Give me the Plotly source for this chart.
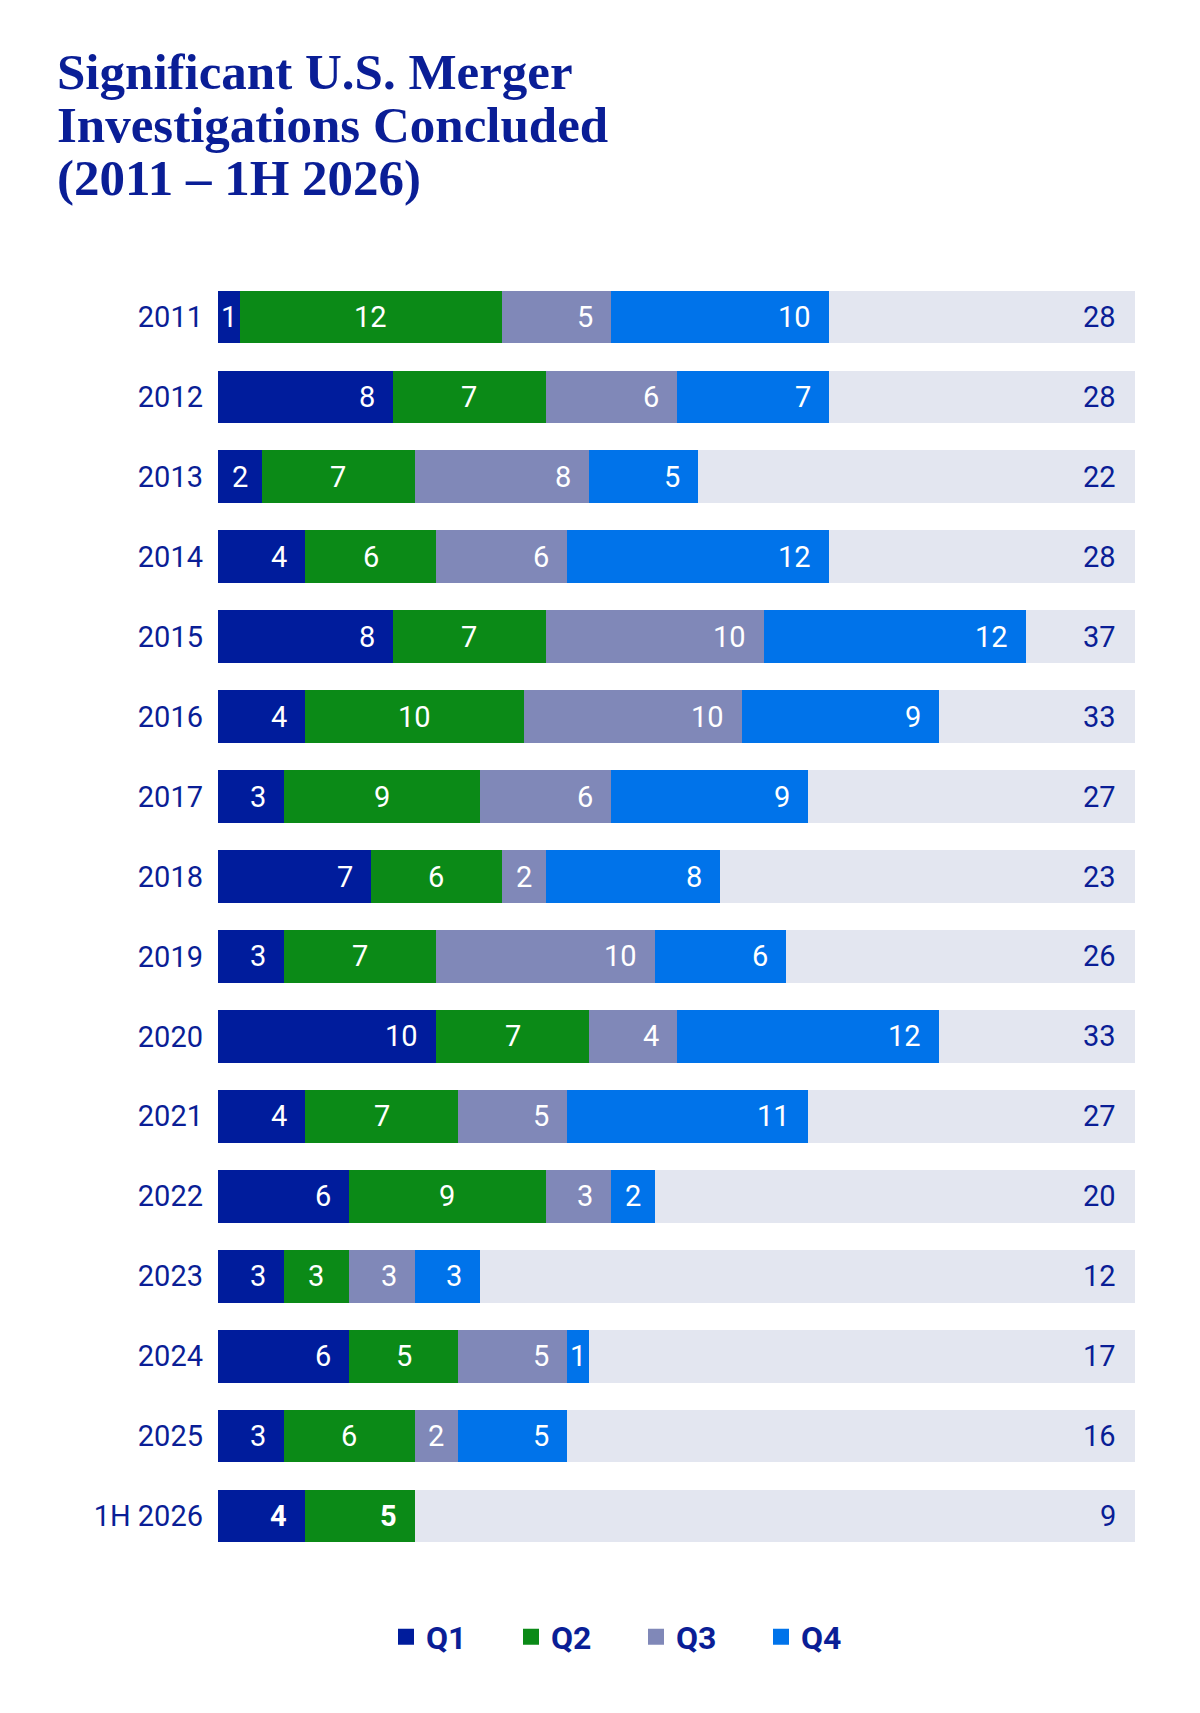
import plotly.graph_objects as go

# data
years = ["2011", "2012", "2013", "2014", "2015", "2016", "2017", "2018",
         "2019", "2020", "2021", "2022", "2023", "2024", "2025", "1H 2026"]
q1 = [1, 8, 2, 4, 8, 4, 3, 7, 3, 10, 4, 6, 3, 6, 3, 4]
q2 = [12, 7, 7, 6, 7, 10, 9, 6, 7, 7, 7, 9, 3, 5, 6, 5]
q3 = [5, 6, 8, 6, 10, 10, 6, 2, 10, 4, 5, 3, 3, 5, 2, 0]
q4 = [10, 7, 5, 12, 12, 9, 9, 8, 6, 12, 11, 2, 3, 1, 5, 0]
quarters = ["Q1", "Q2", "Q3", "Q4"]

AXIS_MAX = 42
NAVY = "#0a1e96"
colors = ["#001c9c", "#0b8a17", "#8088b8", "#0073ea"]
TRACK = "#e3e6f0"
FONT = "Roboto"

series = [q1, q2, q3, q4]
totals = [sum(v) for v in zip(*series)]
track = [AXIS_MAX - t for t in totals]

fig = go.Figure()
for name, vals, col in zip(quarters, series, colors):
    fig.add_trace(go.Bar(y=years, x=vals, name=name, orientation="h",
                         marker=dict(color=col, line=dict(width=0)),
                         showlegend=False, legendgroup=name,
                         hoverinfo="x+name"))
    # legend entry with a bigger square swatch
    fig.add_trace(go.Scatter(x=[None], y=[None], mode="markers", name=name,
                             legendgroup=name,
                             marker=dict(symbol="square", size=20, color=col)))
fig.add_trace(go.Bar(y=years, x=track, orientation="h", showlegend=False,
                     marker=dict(color=TRACK, line=dict(width=0)),
                     hoverinfo="skip"))

annots = []
last = len(years) - 1
# segment labels (y given as category index)
for i, yr in enumerate(years):
    start = 0
    wt = 700 if i == last else 400
    for k, vals in enumerate(series):
        v = vals[i]
        if v > 0:
            f = dict(family=FONT, size=29, color="white", weight=wt)
            if (k == 1 and i != last) or v <= 2:
                annots.append(dict(x=start + v / 2, y=i, text=str(v),
                                   xanchor="center", showarrow=False, font=f))
            else:
                annots.append(dict(x=start + v, y=i, text=str(v),
                                   xanchor="right", xshift=-16, showarrow=False,
                                   font=f))
        start += v
    # total at the right end of the track
    annots.append(dict(x=AXIS_MAX, y=i, text=str(totals[i]), xanchor="right",
                       xshift=-17, showarrow=False,
                       font=dict(family=FONT, size=29, color=NAVY)))

# title lines
title_lines = ["Significant U.S. Merger", "Investigations Concluded",
               "(2011 \u2013 1H 2026)"]
for j, line in enumerate(title_lines):
    annots.append(dict(xref="paper", yref="paper", x=(55 - 218) / 917,
                       y=(1556.5 - (71 + 53 * j)) / 1280, text="<b>" + line + "</b>",
                       xanchor="left", yanchor="middle", showarrow=False,
                       font=dict(family="Liberation Serif", size=51, color=NAVY)))

fig.update_layout(
    width=1200, height=1713,
    barmode="stack", bargap=0.34,
    plot_bgcolor="white", paper_bgcolor="white",
    margin=dict(l=218, r=65, t=276.5, b=156.5),
    xaxis=dict(range=[0, AXIS_MAX], visible=False, fixedrange=True),
    yaxis=dict(type="category", range=[len(years) - 0.5, -0.5],
               showgrid=False, zeroline=False, ticklabelstandoff=14,
               tickfont=dict(family=FONT, size=29, color=NAVY)),
    legend=dict(orientation="h", xref="container", yref="container",
                x=386 / 1200, y=1 - 1637 / 1713, xanchor="left", yanchor="middle",
                font=dict(family=FONT, size=32, color=NAVY, weight=700),
                entrywidth=80, itemwidth=30, traceorder="normal"),
    annotations=annots,
    showlegend=True,
)

fig.write_html("out.html", config={"displayModeBar": False},
               post_script="document.body.style.margin='0';")
